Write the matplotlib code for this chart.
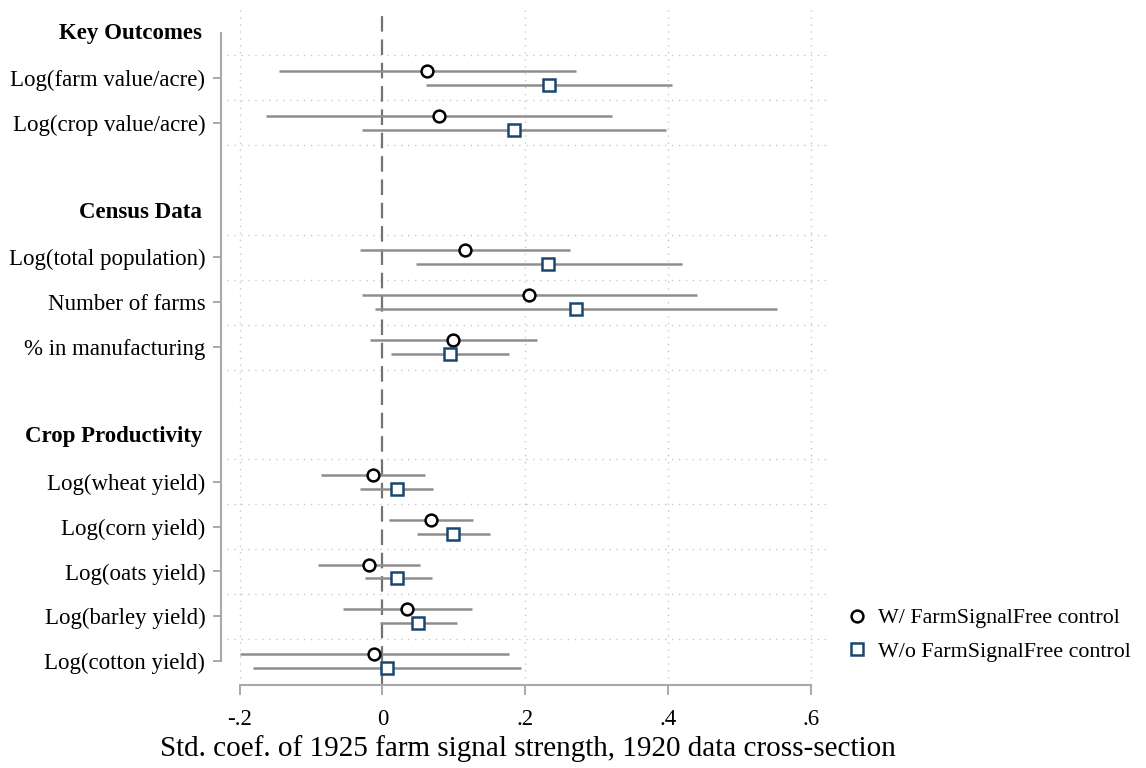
import matplotlib.pyplot as plt
from matplotlib.lines import Line2D

plt.rcParams['font.family'] = ['Liberation Serif', 'DejaVu Serif']

# outcome groups and their variables
groups = ['Key Outcomes', 'Census Data', 'Crop Productivity']
outcomes = [
    ['Log(farm value/acre)', 'Log(crop value/acre)'],
    ['Log(total population)', 'Number of farms', '% in manufacturing'],
    ['Log(wheat yield)', 'Log(corn yield)', 'Log(oats yield)',
     'Log(barley yield)', 'Log(cotton yield)'],
]

# W/ FarmSignalFree control: coef and 95% CI
b_w = [0.062, 0.079, 0.115, 0.205, 0.099, -0.014, 0.068, -0.019, 0.034, -0.012]
lo_w = [-0.145, -0.163, -0.032, -0.029, -0.018, -0.086, 0.009, -0.090, -0.056, -0.200]
hi_w = [0.271, 0.321, 0.262, 0.440, 0.216, 0.060, 0.127, 0.052, 0.125, 0.177]

# W/o FarmSignalFree control
b_wo = [0.233, 0.184, 0.232, 0.271, 0.094, 0.020, 0.099, 0.021, 0.050, 0.007]
lo_wo = [0.061, -0.029, 0.047, -0.011, 0.012, -0.031, 0.048, -0.025, -0.003, -0.181]
hi_wo = [0.405, 0.397, 0.419, 0.553, 0.177, 0.071, 0.150, 0.069, 0.105, 0.194]

xticks = [-0.2, 0, 0.2, 0.4, 0.6]
xticklabels = ['-.2', '0', '.2', '.4', '.6']

# row layout: header, variables, blank row between groups
header_rows, coef_rows, labels, grid_rows = [], [], [], []
r = 0
for g, vars_ in zip(groups, outcomes):
    header_rows.append(r)
    for k, v in enumerate(vars_):
        coef_rows.append(r + 1 + k)
        labels.append(v)
    grid_rows += [r + 0.5 + k for k in range(len(vars_) + 1)]
    r += len(vars_) + 2
last_row = coef_rows[-1]
grid_rows = [g for g in grid_rows if g < last_row]

W, H = 1146, 768
fs = 16.5
fig = plt.figure(figsize=(W / 100, H / 100), dpi=100)
ax = fig.add_axes([227 / W, 1 - 685 / H, (828 - 227) / W, (685 - 10) / H])

ax.set_xlim(-0.2178, 0.624)
ax.set_ylim(last_row + 0.53, -0.513)

grid_kw = dict(color='#c8c8c8', lw=1, ls=(0, (1, 4)), zorder=0)
for g in grid_rows:
    ax.axhline(g, **grid_kw)
for x in [-0.2, 0.2, 0.4, 0.6]:
    ax.axvline(x, **grid_kw)
ax.axvline(0, color='#737373', lw=1.6, ls=(0, (7, 3.5)), zorder=1)

off = 0.155
ci_col = '#8e8e8e'
mk_w = dict(marker='o', ms=8.5, mfc='white', mec='black', mew=1.8)
mk_wo = dict(marker='s', ms=8.8, mfc='white', mec='#1a476f', mew=1.8)
yw = [y - off for y in coef_rows]
ywo = [y + off for y in coef_rows]
ax.hlines(yw, lo_w, hi_w, color=ci_col, lw=1.8, zorder=2)
ax.hlines(ywo, lo_wo, hi_wo, color=ci_col, lw=1.8, zorder=2)
ax.plot(b_w, yw, ls='none', zorder=3, **mk_w)
ax.plot(b_wo, ywo, ls='none', zorder=3, **mk_wo)

for s in ['top', 'right']:
    ax.spines[s].set_visible(False)
ax.spines['left'].set_position(('outward', 4.3))
ax.spines['left'].set_bounds(0, last_row)
ax.spines['bottom'].set_bounds(-0.2, 0.6)
for s in ['left', 'bottom']:
    ax.spines[s].set_color('#a8a8a8')
    ax.spines[s].set_linewidth(1.5)

ax.set_yticks(coef_rows, labels)
ax.tick_params(axis='y', length=5.8, width=1.4, color='#a8a8a8', pad=5.5,
               labelsize=fs)
ax.set_xticks(xticks, xticklabels)
ax.tick_params(axis='x', length=7.2, width=1.4, color='#a8a8a8', pad=10,
               labelsize=fs)

for g, y in zip(groups, header_rows):
    ax.annotate(g, xy=(0, y), xycoords=('axes fraction', 'data'),
                xytext=(-18, 0), textcoords='offset points',
                ha='right', va='center', fontsize=fs, fontweight='bold')

ax.set_xlabel('Std. coef. of 1925 farm signal strength, 1920 data cross-section',
              fontsize=21, labelpad=3.5)

handles = [Line2D([], [], ls='none', **mk_w), Line2D([], [], ls='none', **mk_wo)]
fig.legend(handles, ['W/ FarmSignalFree control', 'W/o FarmSignalFree control'],
           loc='center left', bbox_to_anchor=(848 / W, 1 - 635 / H),
           frameon=False, fontsize=15.8, handlelength=0.8, handletextpad=0.55,
           borderpad=0, borderaxespad=0, labelspacing=0.6)

fig.savefig('out.png', dpi=100)
